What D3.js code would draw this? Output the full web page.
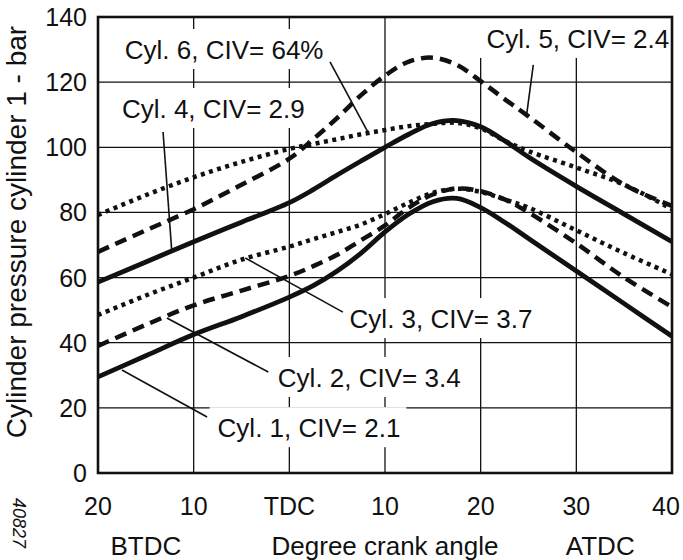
<!DOCTYPE html>
<html>
<head>
<meta charset="utf-8">
<script src="https://cdn.jsdelivr.net/npm/d3@7"></script>
<style>
  body { margin: 0; background: #fff; }
  svg { display: block; }
  text { font-family: "Liberation Sans", Arial, Helvetica, sans-serif; fill: #111; }
</style>
</head>
<body>
<svg id="chart" width="683" height="560"></svg>
<script>
// Crank angle in degrees relative to TDC (negative = before TDC)
const crankAngle = [-20, -15, -10, -5, 0, 2.5, 5, 7.5, 10, 12.5, 15, 17.5, 20, 22.5, 25, 30, 35, 40];

// Cylinder pressure (bar) for each cylinder at the crank angles above
const cyl1 = [29.5, 36, 42.5, 48, 54, 57.5, 62, 67.5, 74, 79.5, 83.3, 84.3, 81.5, 77, 72, 62, 52, 42];
const cyl2 = [39, 45.5, 51.5, 56, 60.5, 63.5, 67, 71.5, 76, 81.5, 85.5, 87.3, 86.5, 84, 80, 70.5, 60, 51];
const cyl3 = [48.5, 54.5, 60, 65.5, 69.5, 71.8, 74, 76.3, 79.5, 83, 86, 87.3, 86.3, 84, 81.5, 74.5, 67.5, 61];
const cyl4 = [58.6, 64.8, 71, 77, 83, 87, 91.5, 95.8, 100, 104, 107.3, 108.2, 106.3, 102, 97, 88, 79.5, 71];
const cyl5 = [67.9, 74.5, 81, 88.5, 96.5, 102.5, 109, 116, 122, 126.3, 127.5, 125.3, 120.3, 114.8, 109.5, 98.5, 88.5, 82];
const cyl6 = [79.2, 85.3, 90.8, 95.5, 99.5, 101, 102.5, 104, 105.3, 106.5, 107.2, 107.5, 105.8, 102, 98.8, 93.8, 88.5, 81];

// Axis ticks
const xTicks = [-20, -10, 0, 10, 20, 30, 40];
const xTickLabels = ["20", "10", "TDC", "10", "20", "30", "40"];
const yTicks = [0, 20, 40, 60, 80, 100, 120, 140];

// Series: name, values, line style
const seriesNames = ["Cyl. 1", "Cyl. 2", "Cyl. 3", "Cyl. 4", "Cyl. 5", "Cyl. 6"];
const seriesValues = [cyl1, cyl2, cyl3, cyl4, cyl5, cyl6];
const seriesStyle = ["solid", "dashed", "dotted", "solid", "dashed", "dotted"];

// Annotation labels: text, text anchor point (angle, bar), leader from (angle, bar) to (angle, bar)
const labelTexts = ["Cyl. 1, CIV= 2.1", "Cyl. 2, CIV= 3.4", "Cyl. 3, CIV= 3.7",
                    "Cyl. 4, CIV= 2.9", "Cyl. 5, CIV= 2.4", "Cyl. 6, CIV= 64%"];
const labelAt = [[-7.5, 11], [-1.2, 26.4], [6.3, 44.5], [-17.5, 109], [20.6, 130.5], [-17.2, 127.1]];
const leaderFrom = [[-8.6, 17.2], [-2.2, 31], [5.6, 49.4], [-13.2, 104.7], [25.5, 125.3], [4.25, 126.2]];
const leaderTo = [[-17.5, 31.6], [-12.8, 47.6], [-4.6, 66], [-12.3, 68.5], [24.8, 109.9], [8.2, 104.7]];

const svg = d3.select("#chart");
const margin = { left: 98, right: 11, top: 17, bottom: 87 };
const W = 683, H = 560;
const x = d3.scaleLinear().domain([-20, 40]).range([margin.left, W - margin.right]);
const y = d3.scaleLinear().domain([0, 140]).range([H - margin.bottom, margin.top]);

const ink = "#111";

// Grid
const grid = svg.append("g");
grid.selectAll("line.v").data(xTicks.slice(1, -1)).join("line")
  .attr("x1", d => x(d)).attr("x2", d => x(d))
  .attr("y1", y(0)).attr("y2", y(140))
  .attr("stroke", ink).attr("stroke-width", 1.3);
grid.selectAll("line.h").data(yTicks.slice(1, -1)).join("line")
  .attr("x1", x(-20)).attr("x2", x(40))
  .attr("y1", d => y(d)).attr("y2", d => y(d))
  .attr("stroke", ink).attr("stroke-width", 1.3);

// Curves
const dash = { solid: null, dashed: "12,7", dotted: "4,4.5" };
const width = { solid: 4.8, dashed: 4.5, dotted: 4.5 };
const line = d3.line().x(d => x(d[0])).y(d => y(d[1])).curve(d3.curveCatmullRom.alpha(0.5));
svg.append("g").selectAll("path").data(seriesValues).join("path")
  .attr("d", (vals) => line(crankAngle.map((a, i) => [a, vals[i]])))
  .attr("fill", "none")
  .attr("stroke", ink)
  .attr("stroke-width", (d, i) => width[seriesStyle[i]])
  .attr("stroke-dasharray", (d, i) => dash[seriesStyle[i]]);

// Annotation labels with white backing
const ann = svg.append("g");
labelTexts.forEach((t, i) => {
  const g = ann.append("g");
  const txt = g.append("text")
    .attr("x", x(labelAt[i][0])).attr("y", y(labelAt[i][1]))
    .attr("font-size", 26).text(t);
  const bb = txt.node().getBBox();
  g.insert("rect", "text")
    .attr("x", bb.x - 8).attr("y", bb.y - 6)
    .attr("width", bb.width + 14).attr("height", bb.height + 10)
    .attr("fill", "#fff");
  ann.append("line")
    .attr("x1", x(leaderFrom[i][0])).attr("y1", y(leaderFrom[i][1]))
    .attr("x2", x(leaderTo[i][0])).attr("y2", y(leaderTo[i][1]))
    .attr("stroke", ink).attr("stroke-width", 1.6);
});

// Plot frame
svg.append("rect")
  .attr("x", x(-20)).attr("y", y(140))
  .attr("width", x(40) - x(-20)).attr("height", y(0) - y(140))
  .attr("fill", "none").attr("stroke", ink).attr("stroke-width", 2.6);

// Y tick labels
svg.append("g").selectAll("text").data(yTicks).join("text")
  .attr("x", x(-20) - 11).attr("y", d => y(d) + 9)
  .attr("text-anchor", "end").attr("font-size", 25)
  .text(d => d);

// X tick labels (last one kept inside the page edge)
svg.append("g").selectAll("text").data(xTicks).join("text")
  .attr("x", d => Math.min(x(d), W - 17)).attr("y", 515)
  .attr("text-anchor", "middle").attr("font-size", 25)
  .text((d, i) => xTickLabels[i]);

// X axis captions
const capY = 555;
svg.append("text").attr("x", (x(-20) + x(-10)) / 2).attr("y", capY)
  .attr("text-anchor", "middle").attr("font-size", 26).text("BTDC");
svg.append("text").attr("x", x(10)).attr("y", capY)
  .attr("text-anchor", "middle").attr("font-size", 26).text("Degree crank angle");
svg.append("text").attr("x", x(32.5)).attr("y", capY)
  .attr("text-anchor", "middle").attr("font-size", 26).text("ATDC");

// Y axis title
svg.append("text")
  .attr("transform", "translate(26, 232) rotate(-90)")
  .attr("text-anchor", "middle").attr("font-size", 28)
  .text("Cylinder pressure cylinder 1 - bar");

// Figure number
svg.append("text")
  .attr("transform", "translate(13, 498) rotate(90)")
  .attr("font-size", 18).attr("font-style", "italic")
  .text("40827");
</script>
</body>
</html>
